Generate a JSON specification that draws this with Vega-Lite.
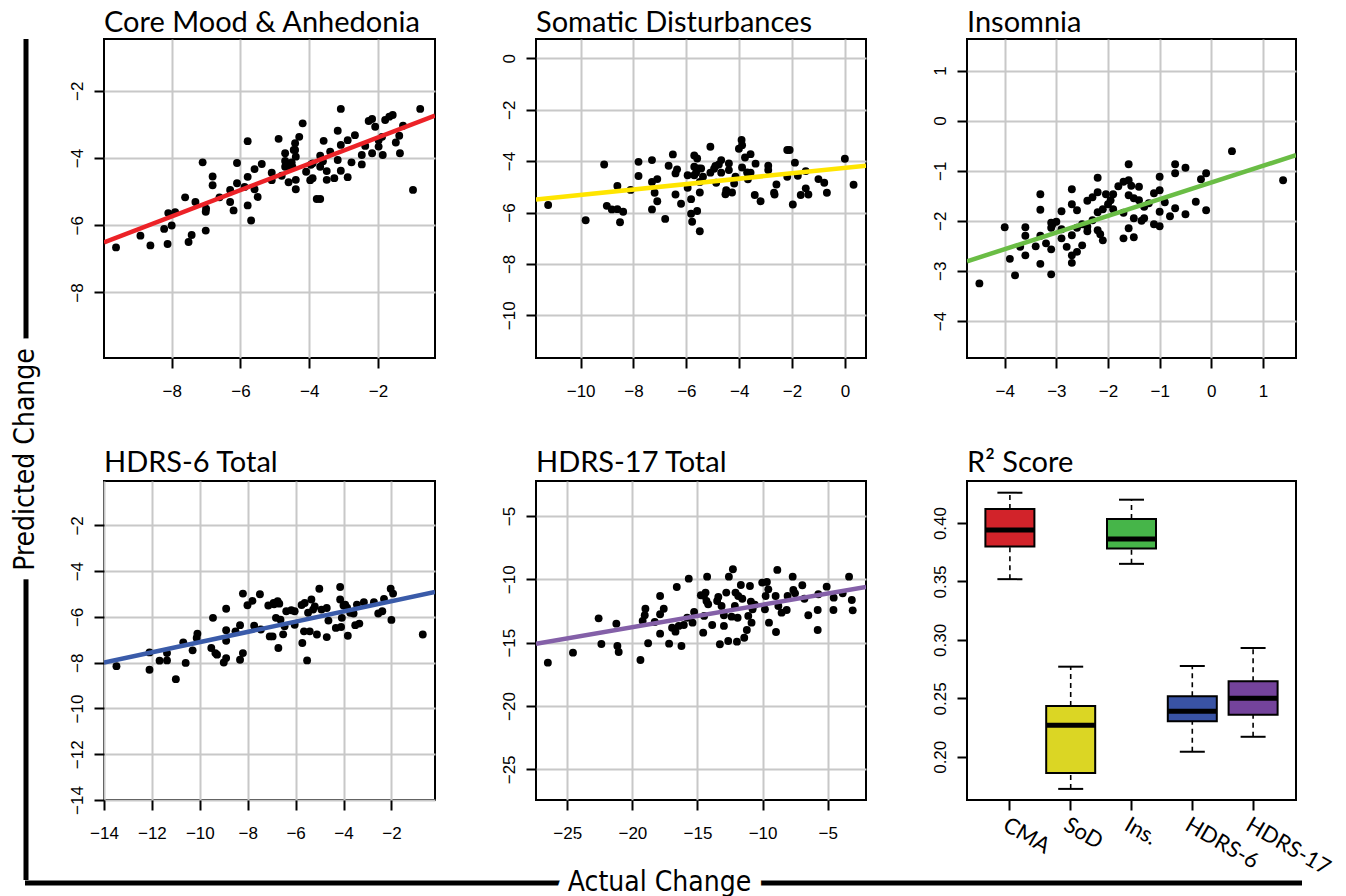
{
"$schema": "https://vega.github.io/schema/vega-lite/v6.json",
"padding": {"left": 11, "top": 6, "right": 0, "bottom": 0},
"background": "white",
"config": {
 "view": {"stroke": "black", "strokeWidth": 2},
 "axis": {"labelFont": "Liberation Sans", "labelFontSize": 17, "labelColor": "black", "tickColor": "black", "tickWidth": 2, "tickSize": 10, "domain": false, "gridColor": "#c8c8c8", "gridWidth": 2, "title": null, "labelFlush": false, "labelOverlap": false},
 "axisX": {"labelPadding": 15, "labelBaseline": "top", "labelAngle": 0},
 "axisY": {"labelAngle": 270, "labelAlign": "center", "labelBaseline": "alphabetic", "labelPadding": 12},
 "title": {"font": "Lato", "fontSize": 29, "fontWeight": "normal", "anchor": "start", "frame": "group", "color": "black", "baseline": "alphabetic", "offset": 1}
},
"datasets": {
 "cma": [{"actual":-9.62,"predicted":-6.66},{"actual":-8.91,"predicted":-6.31},{"actual":-8.62,"predicted":-6.6},{"actual":-8.12,"predicted":-6.56},{"actual":-8.22,"predicted":-6.11},{"actual":-8.0,"predicted":-6.01},{"actual":-8.1,"predicted":-5.64},{"actual":-7.9,"predicted":-5.61},{"actual":-7.61,"predicted":-5.17},{"actual":-7.51,"predicted":-6.5},{"actual":-7.42,"predicted":-6.29},{"actual":-7.31,"predicted":-5.31},{"actual":-7.01,"predicted":-6.16},{"actual":-7.01,"predicted":-5.6},{"actual":-7.0,"predicted":-5.51},{"actual":-7.1,"predicted":-4.13},{"actual":-6.81,"predicted":-4.55},{"actual":-6.81,"predicted":-4.81},{"actual":-6.61,"predicted":-5.17},{"actual":-6.3,"predicted":-5.31},{"actual":-6.3,"predicted":-4.95},{"actual":-6.2,"predicted":-5.56},{"actual":-6.1,"predicted":-4.15},{"actual":-6.1,"predicted":-4.75},{"actual":-5.88,"predicted":-4.86},{"actual":-5.79,"predicted":-3.5},{"actual":-5.79,"predicted":-4.56},{"actual":-5.79,"predicted":-5.41},{"actual":-5.69,"predicted":-5.86},{"actual":-5.59,"predicted":-4.33},{"actual":-5.59,"predicted":-4.93},{"actual":-5.5,"predicted":-5.16},{"actual":-5.38,"predicted":-4.18},{"actual":-5.09,"predicted":-4.44},{"actual":-5.09,"predicted":-4.66},{"actual":-4.89,"predicted":-3.43},{"actual":-4.8,"predicted":-4.53},{"actual":-4.7,"predicted":-3.86},{"actual":-4.7,"predicted":-4.09},{"actual":-4.6,"predicted":-4.72},{"actual":-4.58,"predicted":-4.23},{"actual":-4.51,"predicted":-4.13},{"actual":-4.41,"predicted":-3.56},{"actual":-4.41,"predicted":-3.76},{"actual":-4.39,"predicted":-3.96},{"actual":-4.39,"predicted":-4.65},{"actual":-4.39,"predicted":-4.93},{"actual":-4.29,"predicted":-3.37},{"actual":-4.19,"predicted":-2.97},{"actual":-4.49,"predicted":-4.26},{"actual":-4.09,"predicted":-4.41},{"actual":-3.97,"predicted":-4.66},{"actual":-3.9,"predicted":-4.16},{"actual":-3.9,"predicted":-4.6},{"actual":-3.78,"predicted":-5.22},{"actual":-3.68,"predicted":-5.22},{"actual":-3.68,"predicted":-3.93},{"actual":-3.68,"predicted":-4.26},{"actual":-3.58,"predicted":-3.49},{"actual":-3.49,"predicted":-4.39},{"actual":-3.49,"predicted":-4.65},{"actual":-3.39,"predicted":-3.81},{"actual":-3.27,"predicted":-4.6},{"actual":-3.17,"predicted":-4.06},{"actual":-3.17,"predicted":-3.19},{"actual":-3.08,"predicted":-2.54},{"actual":-3.08,"predicted":-3.61},{"actual":-3.08,"predicted":-4.38},{"actual":-2.88,"predicted":-3.47},{"actual":-2.88,"predicted":-4.57},{"actual":-2.77,"predicted":-4.13},{"actual":-2.67,"predicted":-3.32},{"actual":-2.47,"predicted":-3.91},{"actual":-2.47,"predicted":-4.19},{"actual":-2.37,"predicted":-3.64},{"actual":-2.27,"predicted":-2.9},{"actual":-2.17,"predicted":-2.84},{"actual":-2.17,"predicted":-3.86},{"actual":-2.08,"predicted":-3.07},{"actual":-1.98,"predicted":-3.66},{"actual":-1.88,"predicted":-3.37},{"actual":-1.86,"predicted":-3.91},{"actual":-1.79,"predicted":-2.87},{"actual":-1.67,"predicted":-2.77},{"actual":-1.57,"predicted":-2.72},{"actual":-1.48,"predicted":-3.54},{"actual":-1.38,"predicted":-3.34},{"actual":-1.36,"predicted":-3.86},{"actual":-1.27,"predicted":-3.04},{"actual":-0.98,"predicted":-4.95},{"actual":-0.77,"predicted":-2.54},{"actual":-3.95,"predicted":-4.2},{"actual":-3.6,"predicted":-4.1},{"actual":-4.7,"predicted":-4.26},{"actual":-4.59,"predicted":-4.26},{"actual":-4.45,"predicted":-3.76},{"actual":-1.98,"predicted":-3.47}],
 "sod": [{"actual":-11.23,"predicted":-5.71},{"actual":-9.81,"predicted":-6.3},{"actual":-9.11,"predicted":-4.13},{"actual":-9.01,"predicted":-5.74},{"actual":-8.82,"predicted":-5.88},{"actual":-8.61,"predicted":-4.97},{"actual":-8.61,"predicted":-5.87},{"actual":-8.51,"predicted":-6.38},{"actual":-8.39,"predicted":-5.97},{"actual":-8.11,"predicted":-5.12},{"actual":-7.81,"predicted":-4.03},{"actual":-7.81,"predicted":-4.58},{"actual":-7.3,"predicted":-3.96},{"actual":-7.3,"predicted":-4.81},{"actual":-7.3,"predicted":-5.88},{"actual":-7.2,"predicted":-5.23},{"actual":-7.1,"predicted":-4.7},{"actual":-7.1,"predicted":-5.56},{"actual":-6.8,"predicted":-6.25},{"actual":-6.67,"predicted":-4.18},{"actual":-6.51,"predicted":-3.74},{"actual":-6.41,"predicted":-4.48},{"actual":-6.41,"predicted":-5.3},{"actual":-6.35,"predicted":-4.32},{"actual":-6.2,"predicted":-5.66},{"actual":-5.95,"predicted":-5.04},{"actual":-5.82,"predicted":-5.48},{"actual":-5.82,"predicted":-6.05},{"actual":-5.78,"predicted":-6.36},{"actual":-5.7,"predicted":-3.78},{"actual":-5.7,"predicted":-4.22},{"actual":-5.7,"predicted":-4.55},{"actual":-5.59,"predicted":-3.9},{"actual":-5.59,"predicted":-5.94},{"actual":-5.49,"predicted":-6.73},{"actual":-5.49,"predicted":-5.22},{"actual":-5.49,"predicted":-4.81},{"actual":-5.44,"predicted":-4.29},{"actual":-5.37,"predicted":-4.61},{"actual":-5.09,"predicted":-3.44},{"actual":-5.09,"predicted":-4.45},{"actual":-4.87,"predicted":-4.84},{"actual":-4.9,"predicted":-4.19},{"actual":-4.77,"predicted":-4.13},{"actual":-4.68,"predicted":-3.96},{"actual":-4.68,"predicted":-4.45},{"actual":-4.52,"predicted":-5.29},{"actual":-4.49,"predicted":-5.13},{"actual":-4.39,"predicted":-4.09},{"actual":-4.39,"predicted":-4.35},{"actual":-4.27,"predicted":-5.22},{"actual":-4.19,"predicted":-4.87},{"actual":-4.14,"predicted":-4.61},{"actual":-4.01,"predicted":-3.52},{"actual":-3.91,"predicted":-3.18},{"actual":-3.89,"predicted":-3.38},{"actual":-3.89,"predicted":-4.25},{"actual":-3.78,"predicted":-3.86},{"actual":-3.7,"predicted":-4.44},{"actual":-3.67,"predicted":-4.71},{"actual":-3.57,"predicted":-3.73},{"actual":-3.57,"predicted":-4.45},{"actual":-3.41,"predicted":-5.32},{"actual":-3.38,"predicted":-4.1},{"actual":-3.19,"predicted":-5.56},{"actual":-2.9,"predicted":-4.18},{"actual":-2.9,"predicted":-4.35},{"actual":-2.68,"predicted":-5.23},{"actual":-2.66,"predicted":-5.3},{"actual":-2.59,"predicted":-4.91},{"actual":-2.18,"predicted":-3.57},{"actual":-2.09,"predicted":-3.57},{"actual":-2.18,"predicted":-4.61},{"actual":-1.97,"predicted":-5.69},{"actual":-1.89,"predicted":-4.06},{"actual":-1.78,"predicted":-4.57},{"actual":-1.67,"predicted":-5.32},{"actual":-1.48,"predicted":-4.39},{"actual":-1.48,"predicted":-5.06},{"actual":-1.38,"predicted":-5.3},{"actual":-1.0,"predicted":-4.7},{"actual":-0.78,"predicted":-4.84},{"actual":-0.68,"predicted":-5.23},{"actual":0.0,"predicted":-3.91},{"actual":0.33,"predicted":-4.92},{"actual":-5.53,"predicted":-4.29},{"actual":-5.95,"predicted":-4.55},{"actual":-5.63,"predicted":-4.45},{"actual":-4.95,"predicted":-4.3}],
 "ins": [{"actual":-4.49,"predicted":-3.25},{"actual":-4.0,"predicted":-2.13},{"actual":-3.9,"predicted":-2.76},{"actual":-3.8,"predicted":-3.09},{"actual":-3.7,"predicted":-2.52},{"actual":-3.6,"predicted":-2.13},{"actual":-3.6,"predicted":-2.3},{"actual":-3.6,"predicted":-2.69},{"actual":-3.4,"predicted":-2.51},{"actual":-3.31,"predicted":-1.47},{"actual":-3.31,"predicted":-1.78},{"actual":-3.31,"predicted":-2.3},{"actual":-3.31,"predicted":-2.86},{"actual":-3.2,"predicted":-2.45},{"actual":-3.1,"predicted":-3.07},{"actual":-3.1,"predicted":-2.57},{"actual":-3.1,"predicted":-2.04},{"actual":-3.1,"predicted":-2.14},{"actual":-3.0,"predicted":-2.02},{"actual":-2.9,"predicted":-1.81},{"actual":-2.9,"predicted":-2.17},{"actual":-2.9,"predicted":-2.35},{"actual":-2.8,"predicted":-2.52},{"actual":-2.7,"predicted":-1.37},{"actual":-2.7,"predicted":-1.67},{"actual":-2.7,"predicted":-2.29},{"actual":-2.7,"predicted":-2.69},{"actual":-2.7,"predicted":-2.84},{"actual":-2.6,"predicted":-1.79},{"actual":-2.6,"predicted":-2.62},{"actual":-2.6,"predicted":-2.14},{"actual":-2.5,"predicted":-2.49},{"actual":-2.5,"predicted":-2.07},{"actual":-2.4,"predicted":-1.6},{"actual":-2.4,"predicted":-2.21},{"actual":-2.3,"predicted":-1.99},{"actual":-2.3,"predicted":-1.53},{"actual":-2.2,"predicted":-1.14},{"actual":-2.2,"predicted":-1.43},{"actual":-2.2,"predicted":-1.83},{"actual":-2.2,"predicted":-2.19},{"actual":-2.15,"predicted":-2.27},{"actual":-2.1,"predicted":-2.39},{"actual":-2.1,"predicted":-1.77},{"actual":-2.04,"predicted":-1.47},{"actual":-2.0,"predicted":-1.67},{"actual":-1.9,"predicted":-1.47},{"actual":-1.9,"predicted":-1.77},{"actual":-1.8,"predicted":-1.31},{"actual":-1.7,"predicted":-1.22},{"actual":-1.7,"predicted":-1.84},{"actual":-1.7,"predicted":-2.35},{"actual":-1.6,"predicted":-0.87},{"actual":-1.6,"predicted":-1.19},{"actual":-1.6,"predicted":-1.49},{"actual":-1.6,"predicted":-2.15},{"actual":-1.5,"predicted":-2.33},{"actual":-1.5,"predicted":-1.95},{"actual":-1.4,"predicted":-1.32},{"actual":-1.4,"predicted":-1.59},{"actual":-1.3,"predicted":-1.95},{"actual":-1.3,"predicted":-1.72},{"actual":-1.21,"predicted":-1.65},{"actual":-1.11,"predicted":-1.45},{"actual":-1.11,"predicted":-2.07},{"actual":-1.0,"predicted":-1.12},{"actual":-1.0,"predicted":-1.39},{"actual":-1.0,"predicted":-1.82},{"actual":-1.0,"predicted":-2.11},{"actual":-0.9,"predicted":-1.63},{"actual":-0.8,"predicted":-1.91},{"actual":-0.7,"predicted":-0.87},{"actual":-0.7,"predicted":-1.05},{"actual":-0.7,"predicted":-1.75},{"actual":-0.5,"predicted":-0.94},{"actual":-0.5,"predicted":-1.87},{"actual":-0.3,"predicted":-1.62},{"actual":-0.2,"predicted":-1.17},{"actual":-0.1,"predicted":-1.05},{"actual":-0.1,"predicted":-1.79},{"actual":0.4,"predicted":-0.61},{"actual":1.39,"predicted":-1.19},{"actual":-1.95,"predicted":-1.59},{"actual":-1.5,"predicted":-1.55},{"actual":-2.4,"predicted":-2.12},{"actual":-3.08,"predicted":-2.08},{"actual":-1.55,"predicted":-1.3},{"actual":-1.35,"predicted":-2.0}],
 "h6": [{"actual":-13.48,"predicted":-8.15},{"actual":-12.1,"predicted":-7.55},{"actual":-12.1,"predicted":-8.31},{"actual":-11.68,"predicted":-7.91},{"actual":-11.37,"predicted":-7.9},{"actual":-11.37,"predicted":-7.58},{"actual":-11.0,"predicted":-8.72},{"actual":-10.69,"predicted":-7.11},{"actual":-10.59,"predicted":-8.01},{"actual":-10.3,"predicted":-7.46},{"actual":-10.13,"predicted":-6.92},{"actual":-10.1,"predicted":-6.73},{"actual":-9.52,"predicted":-7.36},{"actual":-9.45,"predicted":-6.04},{"actual":-9.35,"predicted":-7.58},{"actual":-9.28,"predicted":-7.65},{"actual":-9.0,"predicted":-7.99},{"actual":-8.9,"predicted":-7.8},{"actual":-8.9,"predicted":-5.64},{"actual":-8.9,"predicted":-6.58},{"actual":-8.9,"predicted":-7.04},{"actual":-8.51,"predicted":-6.63},{"actual":-8.32,"predicted":-7.87},{"actual":-8.2,"predicted":-7.58},{"actual":-8.32,"predicted":-6.36},{"actual":-8.2,"predicted":-4.98},{"actual":-8.01,"predicted":-5.49},{"actual":-7.8,"predicted":-5.3},{"actual":-7.73,"predicted":-6.38},{"actual":-7.49,"predicted":-5.01},{"actual":-7.45,"predicted":-6.55},{"actual":-7.14,"predicted":-5.5},{"actual":-7.08,"predicted":-6.85},{"actual":-6.96,"predicted":-6.85},{"actual":-6.92,"predicted":-5.39},{"actual":-6.75,"predicted":-5.31},{"actual":-6.82,"predicted":-6.04},{"actual":-6.72,"predicted":-7.36},{"actual":-6.63,"predicted":-6.12},{"actual":-6.52,"predicted":-6.76},{"actual":-6.46,"predicted":-6.41},{"actual":-6.39,"predicted":-5.75},{"actual":-6.18,"predicted":-5.71},{"actual":-6.04,"predicted":-5.75},{"actual":-6.04,"predicted":-6.34},{"actual":-5.72,"predicted":-7.14},{"actual":-5.65,"predicted":-6.63},{"actual":-5.62,"predicted":-5.39},{"actual":-5.52,"predicted":-7.9},{"actual":-5.48,"predicted":-5.82},{"actual":-5.41,"predicted":-6.63},{"actual":-5.34,"predicted":-5.24},{"actual":-5.27,"predicted":-5.68},{"actual":-5.11,"predicted":-6.77},{"actual":-5.01,"predicted":-4.77},{"actual":-4.92,"predicted":-5.68},{"actual":-4.7,"predicted":-6.88},{"actual":-4.63,"predicted":-6.16},{"actual":-4.7,"predicted":-5.61},{"actual":-4.32,"predicted":-6.48},{"actual":-4.14,"predicted":-4.69},{"actual":-4.14,"predicted":-5.24},{"actual":-4.1,"predicted":-6.44},{"actual":-4.07,"predicted":-6.04},{"actual":-3.93,"predicted":-5.46},{"actual":-3.82,"predicted":-6.82},{"actual":-3.72,"predicted":-5.82},{"actual":-3.58,"predicted":-5.85},{"actual":-3.51,"predicted":-6.36},{"actual":-3.34,"predicted":-6.29},{"actual":-3.44,"predicted":-5.46},{"actual":-3.15,"predicted":-5.36},{"actual":-2.73,"predicted":-5.36},{"actual":-2.55,"predicted":-5.85},{"actual":-2.38,"predicted":-5.75},{"actual":-2.31,"predicted":-5.21},{"actual":-2.03,"predicted":-4.77},{"actual":-1.93,"predicted":-4.98},{"actual":-2.0,"predicted":-6.13},{"actual":-0.69,"predicted":-6.77},{"actual":-5.2,"predicted":-5.54},{"actual":-6.68,"predicted":-5.42},{"actual":-5.75,"predicted":-5.48},{"actual":-6.9,"predicted":-5.45},{"actual":-4.0,"predicted":-5.5},{"actual":-3.85,"predicted":-5.6}],
 "h17": [{"actual":-26.49,"predicted":-16.58},{"actual":-24.56,"predicted":-15.79},{"actual":-22.59,"predicted":-13.08},{"actual":-22.38,"predicted":-15.11},{"actual":-21.23,"predicted":-13.5},{"actual":-21.15,"predicted":-15.26},{"actual":-21.05,"predicted":-15.74},{"actual":-19.38,"predicted":-16.37},{"actual":-19.21,"predicted":-13.29},{"actual":-19.0,"predicted":-12.32},{"actual":-19.05,"predicted":-12.84},{"actual":-18.79,"predicted":-15.05},{"actual":-18.28,"predicted":-13.37},{"actual":-17.87,"predicted":-11.32},{"actual":-17.87,"predicted":-12.76},{"actual":-17.87,"predicted":-14.29},{"actual":-17.59,"predicted":-12.32},{"actual":-17.18,"predicted":-15.08},{"actual":-16.95,"predicted":-13.82},{"actual":-16.69,"predicted":-14.13},{"actual":-16.59,"predicted":-10.61},{"actual":-16.44,"predicted":-13.68},{"actual":-16.23,"predicted":-15.26},{"actual":-16.05,"predicted":-13.61},{"actual":-15.79,"predicted":-13.03},{"actual":-15.67,"predicted":-9.95},{"actual":-15.38,"predicted":-13.42},{"actual":-15.26,"predicted":-12.58},{"actual":-14.74,"predicted":-11.26},{"actual":-14.56,"predicted":-14.21},{"actual":-14.49,"predicted":-12.89},{"actual":-14.38,"predicted":-11.05},{"actual":-14.31,"predicted":-11.71},{"actual":-14.26,"predicted":-9.79},{"actual":-14.18,"predicted":-11.97},{"actual":-13.87,"predicted":-13.61},{"actual":-13.49,"predicted":-11.71},{"actual":-13.28,"predicted":-15.13},{"actual":-13.15,"predicted":-12.11},{"actual":-12.97,"predicted":-12.84},{"actual":-12.97,"predicted":-13.68},{"actual":-12.79,"predicted":-11.05},{"actual":-12.64,"predicted":-14.87},{"actual":-12.59,"predicted":-9.79},{"actual":-12.28,"predicted":-9.21},{"actual":-12.38,"predicted":-12.95},{"actual":-12.08,"predicted":-11.05},{"actual":-11.97,"predicted":-14.92},{"actual":-11.92,"predicted":-13.03},{"actual":-11.67,"predicted":-10.45},{"actual":-11.56,"predicted":-11.53},{"actual":-11.41,"predicted":-14.61},{"actual":-11.21,"predicted":-14.0},{"actual":-11.1,"predicted":-12.89},{"actual":-10.97,"predicted":-10.53},{"actual":-10.9,"predicted":-11.76},{"actual":-10.85,"predicted":-13.42},{"actual":-10.77,"predicted":-12.37},{"actual":-10.03,"predicted":-10.26},{"actual":-9.82,"predicted":-12.37},{"actual":-9.77,"predicted":-11.32},{"actual":-9.67,"predicted":-10.21},{"actual":-9.56,"predicted":-10.79},{"actual":-9.51,"predicted":-13.42},{"actual":-9.0,"predicted":-11.32},{"actual":-8.97,"predicted":-14.16},{"actual":-8.87,"predicted":-9.26},{"actual":-8.79,"predicted":-12.11},{"actual":-8.54,"predicted":-12.63},{"actual":-8.15,"predicted":-12.42},{"actual":-8.08,"predicted":-11.32},{"actual":-7.69,"predicted":-9.79},{"actual":-7.64,"predicted":-10.84},{"actual":-7.51,"predicted":-11.11},{"actual":-6.95,"predicted":-10.47},{"actual":-6.79,"predicted":-11.53},{"actual":-6.49,"predicted":-12.84},{"actual":-5.77,"predicted":-12.42},{"actual":-5.77,"predicted":-14.0},{"actual":-5.72,"predicted":-11.18},{"actual":-5.08,"predicted":-10.58},{"actual":-4.56,"predicted":-12.42},{"actual":-4.54,"predicted":-11.45},{"actual":-3.85,"predicted":-11.11},{"actual":-3.36,"predicted":-9.79},{"actual":-3.15,"predicted":-11.63},{"actual":-3.08,"predicted":-12.45},{"actual":-12.13,"predicted":-12.11},{"actual":-11.87,"predicted":-11.32},{"actual":-10.6,"predicted":-12.0},{"actual":-13.4,"predicted":-11.4},{"actual":-14.5,"predicted":-11.3}],
 "fits": [{"panel":"cma","actual":-9.97,"predicted":-6.51},{"panel":"cma","actual":-0.34,"predicted":-2.74},{"panel":"sod","actual":-11.69,"predicted":-5.49},{"panel":"sod","actual":0.8,"predicted":-4.18},{"panel":"ins","actual":-4.73,"predicted":-2.81},{"panel":"ins","actual":1.64,"predicted":-0.69},{"panel":"h6","actual":-14.0,"predicted":-7.99},{"panel":"h6","actual":-0.18,"predicted":-4.91},{"panel":"h17","actual":-27.4,"predicted":-15.08},{"panel":"h17","actual":-2.06,"predicted":-10.6}],
 "r2": [{"model":"CMA","low":0.352,"q1":0.38,"median":0.394,"q3":0.412,"high":0.426},{"model":"SoD","low":0.1725,"q1":0.1862,"median":0.2269,"q3":0.2434,"high":0.2771},{"model":"Ins.","low":0.3651,"q1":0.3782,"median":0.3863,"q3":0.4034,"high":0.42},{"model":"HDRS-6","low":0.2043,"q1":0.2303,"median":0.2389,"q3":0.2517,"high":0.2777},{"model":"HDRS-17","low":0.2171,"q1":0.236,"median":0.25,"q3":0.2646,"high":0.2931}]
},
"vconcat": [
 {"hconcat": [
  {"title": " ", "width": 2, "height": 841, "view": {"stroke": null},
   "data": {"values": [{}]},
   "layer": [
    {"mark": {"type": "rule", "color": "black", "strokeWidth": 5}, "encoding": {"x": {"datum": 0.5, "type": "quantitative", "scale": {"domain": [0, 1]}, "axis": null}}},
    {"mark": {"type": "text", "text": "Predicted Change", "angle": 270, "font": "DejaVu Sans Condensed, Liberation Sans, sans-serif", "fontSize": 28, "fill": "white", "stroke": "white", "strokeWidth": 22, "align": "center", "baseline": "middle"}, "encoding": {"x": {"datum": 0.5, "type": "quantitative"}}},
    {"mark": {"type": "text", "text": "Predicted Change", "angle": 270, "font": "DejaVu Sans Condensed, Liberation Sans, sans-serif", "fontSize": 28, "fill": "black", "align": "center", "baseline": "middle"}, "encoding": {"x": {"datum": 0.5, "type": "quantitative"}}}
   ]},
  {"concat": [
   {"width": 331, "height": 319, "title": {"text": "Core Mood & Anhedonia", "offset": 1},
    "layer": [
     {"data": {"name": "cma"}, "mark": {"type": "circle", "size": 62, "color": "black", "opacity": 1},
      "encoding": {"x": {"field": "actual", "type": "quantitative", "scale": {"domain": [-9.97, -0.34], "nice": false, "zero": false}, "axis": {"values": [-8, -6, -4, -2]}},
                   "y": {"field": "predicted", "type": "quantitative", "scale": {"domain": [-9.95, -0.46], "nice": false, "zero": false}, "axis": {"values": [-8, -6, -4, -2]}}}},
     {"data": {"name": "fits"}, "transform": [{"filter": "datum.panel == 'cma'"}], "mark": {"type": "line", "color": "#ec2227", "strokeWidth": 4.5, "clip": true},
      "encoding": {"x": {"field": "actual", "type": "quantitative"}, "y": {"field": "predicted", "type": "quantitative"}}}
    ]},
   {"width": 330, "height": 319, "title": {"text": "Somatic Disturbances", "offset": 1},
    "layer": [
     {"data": {"name": "sod"}, "mark": {"type": "circle", "size": 62, "color": "black", "opacity": 1},
      "encoding": {"x": {"field": "actual", "type": "quantitative", "scale": {"domain": [-11.69, 0.8], "nice": false, "zero": false}, "axis": {"values": [-10, -8, -6, -4, -2, 0]}},
                   "y": {"field": "predicted", "type": "quantitative", "scale": {"domain": [-11.66, 0.75], "nice": false, "zero": false}, "axis": {"values": [-10, -8, -6, -4, -2, 0]}}}},
     {"data": {"name": "fits"}, "transform": [{"filter": "datum.panel == 'sod'"}], "mark": {"type": "line", "color": "#ffe500", "strokeWidth": 4.5, "clip": true},
      "encoding": {"x": {"field": "actual", "type": "quantitative"}, "y": {"field": "predicted", "type": "quantitative"}}}
    ]},
   {"width": 329, "height": 319, "title": {"text": "Insomnia", "offset": 1},
    "layer": [
     {"data": {"name": "ins"}, "mark": {"type": "circle", "size": 62, "color": "black", "opacity": 1},
      "encoding": {"x": {"field": "actual", "type": "quantitative", "scale": {"domain": [-4.73, 1.64], "nice": false, "zero": false}, "axis": {"values": [-4, -3, -2, -1, 0, 1]}},
                   "y": {"field": "predicted", "type": "quantitative", "scale": {"domain": [-4.74, 1.63], "nice": false, "zero": false}, "axis": {"values": [-4, -3, -2, -1, 0, 1]}}}},
     {"data": {"name": "fits"}, "transform": [{"filter": "datum.panel == 'ins'"}], "mark": {"type": "line", "color": "#6abd45", "strokeWidth": 4.5, "clip": true},
      "encoding": {"x": {"field": "actual", "type": "quantitative"}, "y": {"field": "predicted", "type": "quantitative"}}}
    ]},
   {"width": 331, "height": 319, "title": {"text": "HDRS-6 Total", "offset": 3},
    "layer": [
     {"data": {"name": "h6"}, "mark": {"type": "circle", "size": 62, "color": "black", "opacity": 1},
      "encoding": {"x": {"field": "actual", "type": "quantitative", "scale": {"domain": [-14, -0.18], "nice": false, "zero": false}, "axis": {"values": [-14, -12, -10, -8, -6, -4, -2]}},
                   "y": {"field": "predicted", "type": "quantitative", "scale": {"domain": [-14, -0.06], "nice": false, "zero": false}, "axis": {"values": [-14, -12, -10, -8, -6, -4, -2]}}}},
     {"data": {"name": "fits"}, "transform": [{"filter": "datum.panel == 'h6'"}], "mark": {"type": "line", "color": "#3a5ba9", "strokeWidth": 4.5, "clip": true},
      "encoding": {"x": {"field": "actual", "type": "quantitative"}, "y": {"field": "predicted", "type": "quantitative"}}}
    ]},
   {"width": 330, "height": 319, "title": {"text": "HDRS-17 Total", "offset": 3},
    "layer": [
     {"data": {"name": "h17"}, "mark": {"type": "circle", "size": 62, "color": "black", "opacity": 1},
      "encoding": {"x": {"field": "actual", "type": "quantitative", "scale": {"domain": [-27.4, -2.06], "nice": false, "zero": false}, "axis": {"values": [-25, -20, -15, -10, -5]}},
                   "y": {"field": "predicted", "type": "quantitative", "scale": {"domain": [-27.42, -2.24], "nice": false, "zero": false}, "axis": {"values": [-25, -20, -15, -10, -5]}}}},
     {"data": {"name": "fits"}, "transform": [{"filter": "datum.panel == 'h17'"}], "mark": {"type": "line", "color": "#8460a8", "strokeWidth": 4.5, "clip": true},
      "encoding": {"x": {"field": "actual", "type": "quantitative"}, "y": {"field": "predicted", "type": "quantitative"}}}
    ]},
   {"width": 329, "height": 319, "title": {"text": "R² Score", "offset": 3},
    "data": {"name": "r2"},
    "encoding": {
      "x": {"field": "model", "type": "nominal", "sort": ["CMA", "SoD", "Ins.", "HDRS-6", "HDRS-17"],
            "scale": {"domain": ["CMA", "SoD", "Ins.", "HDRS-6", "HDRS-17"], "paddingInner": 0.194, "paddingOuter": 0.3026},
            "axis": {"labelAngle": 30, "labelAlign": "left", "labelBaseline": "top", "labelFont": "Lato", "labelFontSize": 22, "labelPadding": 4, "grid": false}}
    },
    "layer": [
     {"mark": {"type": "rule", "color": "black", "strokeWidth": 1.6, "strokeDash": [5, 4]},
      "encoding": {"y": {"field": "low", "type": "quantitative", "scale": {"domain": [0.163, 0.436], "nice": false, "zero": false}, "axis": {"values": [0.2, 0.25, 0.3, 0.35, 0.4], "format": ".2f", "grid": false}}, "y2": {"field": "q1"}}},
     {"mark": {"type": "rule", "color": "black", "strokeWidth": 1.6, "strokeDash": [5, 4]},
      "encoding": {"y": {"field": "q3", "type": "quantitative"}, "y2": {"field": "high"}}},
     {"mark": {"type": "tick", "color": "black", "size": 25, "thickness": 2, "opacity": 1},
      "encoding": {"y": {"field": "low", "type": "quantitative"}}},
     {"mark": {"type": "tick", "color": "black", "size": 25, "thickness": 2, "opacity": 1},
      "encoding": {"y": {"field": "high", "type": "quantitative"}}},
     {"mark": {"type": "bar", "stroke": "black", "strokeWidth": 2, "opacity": 1},
      "encoding": {"y": {"field": "q1", "type": "quantitative"}, "y2": {"field": "q3"},
                   "color": {"field": "model", "type": "nominal", "scale": {"domain": ["CMA", "SoD", "Ins.", "HDRS-6", "HDRS-17"], "range": ["#d2232a", "#dbd624", "#46b549", "#3953a4", "#74439b"]}, "legend": null}}},
     {"mark": {"type": "tick", "color": "black", "size": 49, "thickness": 5, "opacity": 1},
      "encoding": {"y": {"field": "median", "type": "quantitative"}}}
    ]}
  ], "columns": 3, "bounds": "flush", "spacing": {"row": 123, "column": 101}}
 ], "spacing": 26},
 {"width": 1277, "height": 10, "view": {"stroke": null},
  "data": {"values": [{}]},
  "layer": [
   {"mark": {"type": "point", "shape": "square", "size": 784, "opacity": 0, "strokeWidth": 0, "filled": true}, "encoding": {"x": {"datum": 0, "type": "quantitative", "scale": {"domain": [0, 1]}, "axis": null}, "y": {"datum": 1, "type": "quantitative", "scale": {"domain": [0, 1]}, "axis": null}}},
   {"mark": {"type": "rule", "color": "black", "strokeWidth": 5}, "encoding": {"y": {"datum": 1, "type": "quantitative"}}},
   {"mark": {"type": "text", "text": "Actual Change", "font": "DejaVu Sans Condensed, Liberation Sans, sans-serif", "fontSize": 28, "fill": "white", "stroke": "white", "strokeWidth": 22, "align": "center", "baseline": "middle", "dx": -4}, "encoding": {"y": {"datum": 1, "type": "quantitative"}}},
   {"mark": {"type": "text", "text": "Actual Change", "font": "DejaVu Sans Condensed, Liberation Sans, sans-serif", "fontSize": 28, "fill": "black", "align": "center", "baseline": "middle", "dx": -4}, "encoding": {"y": {"datum": 1, "type": "quantitative"}}}
  ]}
],
"spacing": -16
}
